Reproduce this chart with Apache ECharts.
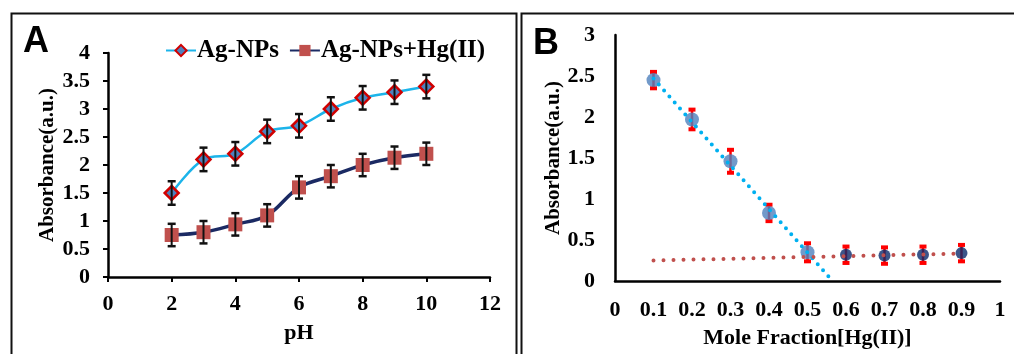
<!DOCTYPE html>
<html><head><meta charset="utf-8">
<script src="https://cdn.jsdelivr.net/npm/echarts@6/dist/echarts.min.js"></script>
<style>html,body{margin:0;padding:0;background:#fff}#c{width:1014px;height:354px}</style>
</head><body><div id="c"></div>
<script>
// Panel A data
const phValues = [2, 3, 4, 5, 6, 7, 8, 9, 10];
const agNPs = [1.5, 2.1, 2.2, 2.6, 2.7, 3.0, 3.2, 3.3, 3.4];
const agNPsHg = [0.75, 0.8, 0.94, 1.1, 1.6, 1.8, 2.0, 2.13, 2.2];
const errA1 = [0.21, 0.21, 0.21, 0.21, 0.21, 0.21, 0.21, 0.21, 0.21];
const errA2 = [0.2, 0.2, 0.2, 0.2, 0.2, 0.2, 0.2, 0.2, 0.2];
// Panel B data
const moleX1 = [0.1, 0.2, 0.3, 0.4, 0.5];
const absB1 = [2.45, 1.97, 1.46, 0.83, 0.35];
const moleX2 = [0.6, 0.7, 0.8, 0.9];
const absB2 = [0.32, 0.31, 0.32, 0.34];
const errB1 = [0.1, 0.12, 0.14, 0.1, 0.11];
const errB2 = [0.1, 0.1, 0.1, 0.1];
const trendBlue = [[0.1, 2.47], [0.565, 0]];
const trendRed = [[0.1, 0.25], [0.9, 0.335]];

const FONT = "'Liberation Serif','Times New Roman',serif";
const chart = echarts.init(document.getElementById('c'));

function errData(xs, ys, es) { return xs.map((x, i) => [x, ys[i] - es[i], ys[i] + es[i]]); }
function errRender(color, lw, capW, capLW) {
  return function (params, api) {
    const x = api.value(0), lo = api.value(1), hi = api.value(2);
    const p1 = api.coord([x, hi]), p2 = api.coord([x, lo]);
    const st = { stroke: color, lineWidth: lw };
    const cs = { stroke: color, lineWidth: capLW };
    return { type: 'group', children: [
      { type: 'line', shape: { x1: p1[0], y1: p1[1], x2: p2[0], y2: p2[1] }, style: st },
      { type: 'line', shape: { x1: p1[0] - capW / 2, y1: p1[1], x2: p1[0] + capW / 2, y2: p1[1] }, style: cs },
      { type: 'line', shape: { x1: p2[0] - capW / 2, y1: p2[1], x2: p2[0] + capW / 2, y2: p2[1] }, style: cs }
    ] };
  };
}

const axisLbl = { color: '#000', fontFamily: FONT, fontWeight: 'bold', fontSize: 22 };
const nameStyle = { color: '#000', fontFamily: FONT, fontWeight: 'bold', fontSize: 22 };
const yNameStyle = { color: '#000', fontFamily: FONT, fontWeight: 'bold', fontSize: 21 };

const option = {
  animation: false,
  backgroundColor: '#fff',
  grid: [
    { left: 108, right: 524, top: 53, bottom: 77 },
    { left: 615, right: 14, top: 35, bottom: 71 }
  ],
  legend: {
    left: 160, top: 33, itemGap: 10, itemWidth: 30, itemHeight: 14,
    textStyle: { color: '#000', fontFamily: FONT, fontWeight: 'bold', fontSize: 25, padding: [0, 0, 0, -4] },
    data: ['Ag-NPs', 'Ag-NPs+Hg(II)']
  },
  xAxis: [
    { gridIndex: 0, type: 'value', min: 0, max: 12, interval: 2,
      name: 'pH', nameLocation: 'middle', nameGap: 45, nameTextStyle: nameStyle,
      axisLine: { onZero: false, lineStyle: { color: '#000', width: 2.5 } },
      axisTick: { show: true, length: 5, lineStyle: { color: '#000', width: 2 } },
      axisLabel: Object.assign({ margin: 16 }, axisLbl), splitLine: { show: false } },
    { gridIndex: 1, type: 'value', min: 0, max: 1, interval: 0.1,
      name: 'Mole Fraction[Hg(II)]', nameLocation: 'middle', nameGap: 46, nameTextStyle: nameStyle,
      axisLine: { onZero: false, lineStyle: { color: '#000', width: 2.5 } },
      axisTick: { show: false },
      axisLabel: Object.assign({ margin: 18 }, axisLbl), splitLine: { show: false } }
  ],
  yAxis: [
    { gridIndex: 0, type: 'value', min: 0, max: 4, interval: 0.5,
      name: 'Absorbance(a.u.)', nameLocation: 'middle', nameGap: 50, nameTextStyle: yNameStyle,
      axisLine: { show: true, lineStyle: { color: '#000', width: 2.5 } },
      axisTick: { show: true, length: 5, lineStyle: { color: '#000', width: 2 } },
      axisLabel: Object.assign({ margin: 18 }, axisLbl), splitLine: { show: false } },
    { gridIndex: 1, type: 'value', min: 0, max: 3, interval: 0.5,
      name: 'Absorbance(a.u.)', nameLocation: 'middle', nameGap: 51, nameTextStyle: yNameStyle,
      axisLine: { show: true, lineStyle: { color: '#000', width: 2.5 } },
      axisTick: { show: false },
      axisLabel: Object.assign({ margin: 20 }, axisLbl), splitLine: { show: false } }
  ],
  graphic: [
    { type: 'polyline', shape: { points: [[11.5, 360], [11.5, 13.5], [516.5, 13.5], [516.5, 360]] }, style: { stroke: '#111', lineWidth: 2, fill: null } },
    { type: 'polyline', shape: { points: [[521.5, 360], [521.5, 13.5], [1020, 13.5]] }, style: { stroke: '#111', lineWidth: 2, fill: null } },
    { type: 'text', left: 23, top: 24, style: { text: 'A', font: "bold 36px 'Liberation Sans', Arial, sans-serif", fill: '#000' } },
    { type: 'text', left: 533, top: 26, style: { text: 'B', font: "bold 36px 'Liberation Sans', Arial, sans-serif", fill: '#000' } }
  ],
  series: [
    { name: 'Ag-NPs', type: 'line', xAxisIndex: 0, yAxisIndex: 0, smooth: 0.35,
      data: phValues.map((x, i) => [x, agNPs[i]]),
      lineStyle: { color: '#1cb4ea', width: 2.5 }, itemStyle: { color: '#4f81bd', borderColor: '#d00000', borderWidth: 2.5 },
      symbol: 'diamond', symbolSize: 14, z: 3 },
    { name: 'Ag-NPs+Hg(II)', type: 'line', xAxisIndex: 0, yAxisIndex: 0, smooth: 0.35,
      data: phValues.map((x, i) => [x, agNPsHg[i]]),
      lineStyle: { color: '#1b2a63', width: 3.5 }, itemStyle: { color: '#c0504d', borderColor: '#c0504d', borderWidth: 0 },
      symbol: 'rect', symbolSize: 14, z: 3 },
    { type: 'custom', xAxisIndex: 0, yAxisIndex: 0, renderItem: errRender('#111', 2, 8, 2.5),
      data: errData(phValues, agNPs, errA1), z: 5, encode: { x: 0, y: [1, 2] } },
    { type: 'custom', xAxisIndex: 0, yAxisIndex: 0, renderItem: errRender('#111', 2, 8, 2.5),
      data: errData(phValues, agNPsHg, errA2), z: 5, encode: { x: 0, y: [1, 2] } },
    // Panel B
    { type: 'custom', xAxisIndex: 1, yAxisIndex: 1, renderItem: errRender('#ff0000', 2.5, 7, 4),
      data: errData(moleX1, absB1, errB1), z: 2, encode: { x: 0, y: [1, 2] } },
    { type: 'custom', xAxisIndex: 1, yAxisIndex: 1, renderItem: errRender('#ff0000', 2.5, 7, 4),
      data: errData(moleX2, absB2, errB2), z: 2, encode: { x: 0, y: [1, 2] } },
    { type: 'scatter', xAxisIndex: 1, yAxisIndex: 1, data: moleX1.map((x, i) => [x, absB1[i]]),
      symbol: 'circle', symbolSize: 14, itemStyle: { color: '#4f81bd' }, z: 3 },
    { type: 'scatter', xAxisIndex: 1, yAxisIndex: 1, data: moleX2.map((x, i) => [x, absB2[i]]),
      symbol: 'circle', symbolSize: 12, itemStyle: { color: '#0b2a6b' }, z: 3 },
    { type: 'line', xAxisIndex: 1, yAxisIndex: 1, data: trendBlue, showSymbol: false, symbol: 'none',
      lineStyle: { color: '#00b0f0', width: 4, type: [0, 8], cap: 'round' }, z: 4 },
    { type: 'line', xAxisIndex: 1, yAxisIndex: 1, data: trendRed, showSymbol: false, symbol: 'none',
      lineStyle: { color: '#c0504d', width: 4, type: [0, 10], cap: 'round' }, z: 4 }
  ]
};
chart.setOption(option);
</script></body></html>
